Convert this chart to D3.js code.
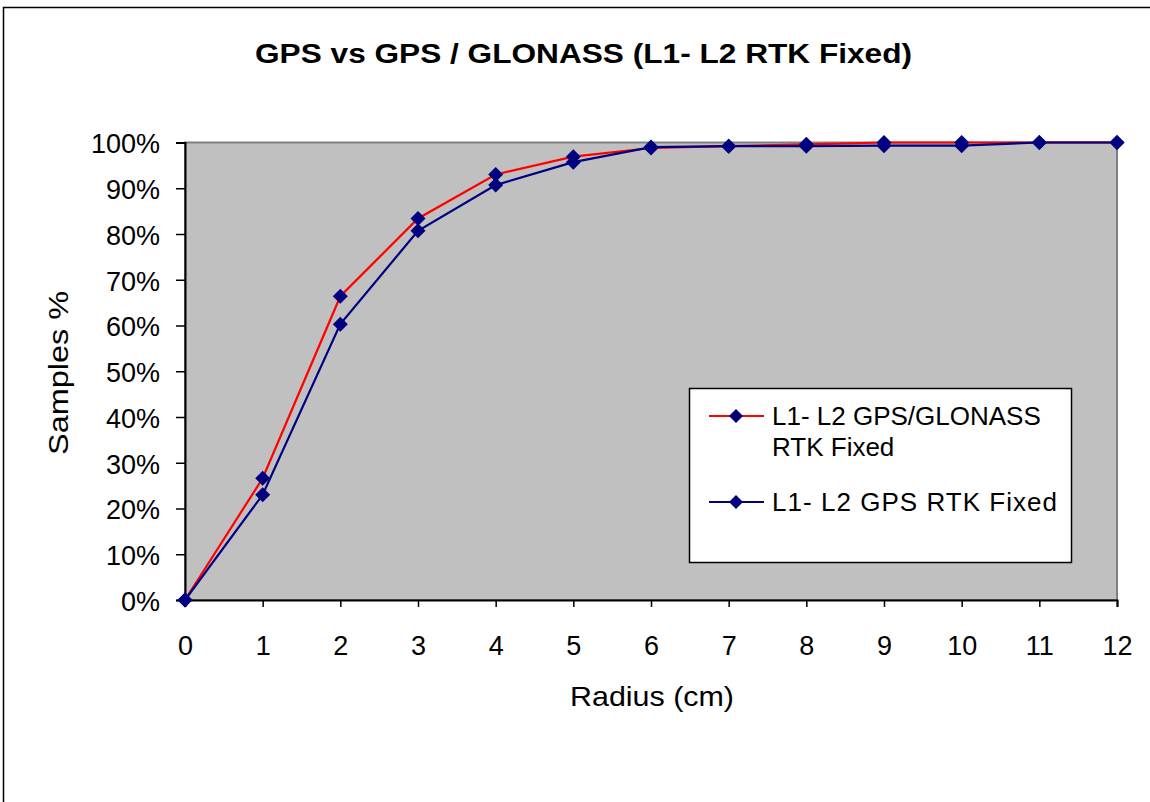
<!DOCTYPE html>
<html><head><meta charset="utf-8">
<script src="https://cdn.jsdelivr.net/npm/d3@7"></script>
<style>html,body{margin:0;padding:0;background:#fff;}svg{display:block;font-family:Arial,"Liberation Sans",sans-serif;}</style>
</head><body>
<script>
const radius = [0,1,2,3,4,5,6,7,8,9,10,11,12];
const gpsGlonass = [0,26.6,66.4,83.4,93.0,96.9,98.8,99.2,99.6,100,100,100,100];
const gpsOnly = [0,23.0,60.3,80.7,90.7,95.7,99.0,99.2,99.2,99.3,99.3,100,100];
const yTicks = [0,10,20,30,40,50,60,70,80,90,100];
const seriesNames = ["L1- L2 GPS/GLONASS|RTK Fixed","L1- L2 GPS RTK Fixed"];
const seriesColors = ["#FF0000","#000080"];
const title = "GPS vs GPS / GLONASS (L1- L2 RTK Fixed)";

const W=1150,H=802;
const FF="Arial, 'Liberation Sans', sans-serif";
const svg=d3.select("body").append("svg").attr("width",W).attr("height",H);
svg.append("rect").attr("x",3.5).attr("y",7.5).attr("width",1160).attr("height",820).attr("fill","#fff").attr("stroke","#000").attr("stroke-width",1.5);

const L=185,R=1117,T=142.5,B=600;
const x=d3.scaleLinear().domain([0,12]).range([L,R]);
const y=d3.scaleLinear().domain([0,100]).range([B,T]);

svg.append("rect").attr("x",L).attr("y",T).attr("width",R-L).attr("height",B-T).attr("fill","#C0C0C0").attr("stroke","#808080").attr("stroke-width",2);

const fs=27;
const yAxis=svg.append("g").attr("transform",`translate(${L},0)`)
 .call(d3.axisLeft(y).tickValues(yTicks).tickFormat(d=>d+"%").tickSize(9).tickPadding(16));
yAxis.select(".domain").attr("stroke","#000").attr("stroke-width",2);
yAxis.selectAll(".tick line").attr("stroke","#000").attr("stroke-width",1.5);
yAxis.selectAll("text").attr("font-size",fs).attr("fill","#000").attr("font-family",FF).attr("dy","0.38em");

const xAxis=svg.append("g").attr("transform",`translate(0,${B})`)
 .call(d3.axisBottom(x).tickValues(radius).tickFormat(d3.format("d")).tickSize(7));
xAxis.select(".domain").attr("stroke","#000").attr("stroke-width",2);
xAxis.selectAll(".tick line").attr("stroke","#000").attr("stroke-width",1.5);
xAxis.selectAll("text").attr("font-size",fs).attr("fill","#000").attr("font-family",FF).attr("y",55).attr("dy","0");

svg.append("text").attr("x",583.5).attr("y",62.5).attr("text-anchor","middle").attr("font-size",27.5).attr("font-weight","bold")
  .attr("textLength",657).attr("lengthAdjust","spacingAndGlyphs").text(title);
svg.append("text").attr("x",652).attr("y",706).attr("text-anchor","middle").attr("font-size",28)
  .attr("textLength",164).attr("lengthAdjust","spacingAndGlyphs").text("Radius (cm)");
svg.append("text").attr("transform","translate(68,373) rotate(-90)").attr("text-anchor","middle").attr("font-size",28)
  .attr("textLength",164).attr("lengthAdjust","spacingAndGlyphs").text("Samples %");

const line=d3.line().x((d,i)=>x(radius[i])).y(d=>y(d));
const dia=(s)=>`M0,${-s}L${s},0L0,${s}L${-s},0Z`;
[gpsGlonass,gpsOnly].forEach((s,k)=>{
  svg.append("path").datum(s).attr("d",line).attr("fill","none").attr("stroke",seriesColors[k]).attr("stroke-width",2.2);
});
[gpsGlonass,gpsOnly].forEach((s,k)=>{
  svg.selectAll(null).data(s).enter().append("path").attr("d",dia(7.5))
   .attr("transform",(d,i)=>`translate(${x(radius[i])},${y(d)})`).attr("fill","#000080");
});

// legend
const lg=svg.append("g");
lg.append("rect").attr("x",689.5).attr("y",388.5).attr("width",382).attr("height",174).attr("fill","#fff").attr("stroke","#000").attr("stroke-width",1.5);
const entryY=[416,502];
seriesNames.forEach((n,k)=>{
  lg.append("line").attr("x1",709).attr("x2",764).attr("y1",entryY[k]).attr("y2",entryY[k]).attr("stroke",seriesColors[k]).attr("stroke-width",2);
  lg.append("path").attr("d",dia(7)).attr("transform",`translate(736,${entryY[k]})`).attr("fill","#000080");
  const t=lg.append("text").attr("x",772).attr("y",entryY[k]).attr("font-size",26);
  n.split("|").forEach((p,j)=>{
    const ts=t.append("tspan").attr("x",772).attr("dy",j===0?"0.36em":"1.19em").text(p);
    if(k===1) ts.attr("textLength",285).attr("lengthAdjust","spacing");
  });
});
</script>
</body></html>
